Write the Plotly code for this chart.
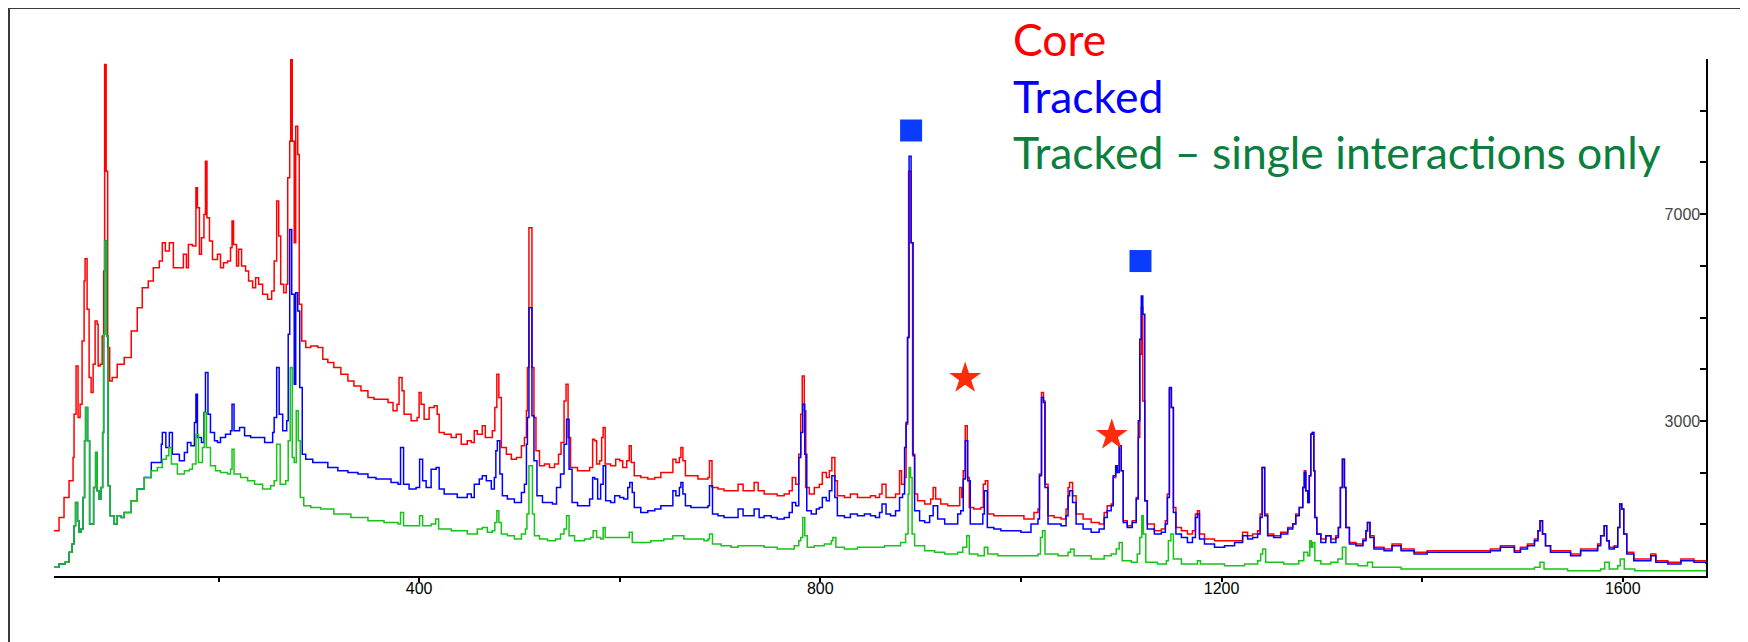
import plotly.graph_objects as go

# ---------------- data ----------------
core_kev = [36, 41, 46, 51, 55, 56, 58, 60, 62, 64, 66, 67, 69, 71, 73, 75, 77, 79, 80, 82, 84, 85.5, 86.5, 88, 89.5, 91.5, 94, 99, 106, 113, 119, 124, 130, 135, 141, 144, 147, 151, 155, 160, 165, 168, 170, 174, 177.5, 179, 181, 183, 185.5, 187, 188.5, 191, 194, 199, 202, 205, 209, 212, 213.5, 215, 218, 220, 223, 227, 230, 234, 237, 240, 244, 249, 253, 255.5, 258, 260, 262, 265, 267.5, 269, 271, 272, 273.5, 275.5, 277, 279, 280.5, 283, 287, 292, 299, 304, 309, 315, 322, 329, 335, 342, 349, 355, 362, 369, 374, 378, 380, 383, 385, 392, 398, 400, 402, 405, 410, 415, 418, 420, 425, 432, 437, 442, 448,
            452, 455, 458, 463, 466, 470, 473, 475.5, 477.5, 479.5, 482, 487, 492, 497, 502, 505, 507, 508, 509.5, 512.5, 514.5, 516.5, 520, 525, 530, 535, 539, 541.5, 544.5, 546.5, 548.5, 551, 558, 565, 570, 573, 575, 577, 580, 582, 583.5, 585.5, 591, 596, 600, 603, 607, 609.5, 611.5, 614.5, 621, 628, 635, 641, 648, 653, 656, 659.5, 661, 663, 665.5, 671, 678, 684, 688, 689.5, 692, 698, 704, 711, 718, 723, 728, 734, 738, 744, 751, 757, 764, 769, 772, 775.5, 778.5, 780.5, 782, 784, 785.5, 789, 794, 799, 802, 806, 809, 811.5, 814.5, 817, 824, 830, 837, 844, 850, 855, 859, 861.5, 865.5,
            870, 875, 879, 881, 884, 885.5, 887, 888, 890.5, 892, 894, 897, 904, 910, 912.5, 915, 920, 927, 934, 939, 941, 942.5, 944.5, 946.5, 948.5, 953, 960, 962.5, 964.5, 967, 973, 983, 993, 1003, 1013, 1017, 1018.5, 1020.5, 1022.5, 1024, 1027, 1033, 1040, 1045, 1047, 1048.5, 1051.5, 1055, 1062, 1070, 1078, 1083, 1086, 1090, 1092, 1094.5, 1096, 1098, 1100, 1102, 1106, 1111, 1115, 1117, 1118.5, 1120, 1121.5, 1123.5, 1126, 1133, 1140, 1144, 1146, 1148, 1150, 1152, 1154.5, 1160, 1166, 1171, 1174, 1176, 1178, 1183, 1193, 1203, 1213, 1221, 1226, 1231, 1236, 1238.5, 1240.5, 1243, 1246, 1252, 1259, 1266, 1271, 1274, 1277.5,
            1281, 1282.5, 1284, 1286, 1287.5, 1289, 1290.5, 1292, 1293, 1295, 1299, 1304, 1309, 1314, 1316.5, 1318.5, 1320.5, 1322.5, 1324, 1327.5, 1334, 1341, 1344, 1345.5, 1348, 1352, 1362, 1370, 1379, 1392, 1405, 1419, 1432, 1445, 1458, 1468, 1478, 1487, 1492, 1498, 1505, 1512, 1515.5, 1517.5, 1520, 1523, 1528, 1538, 1548, 1558, 1568, 1575, 1578, 1581.5, 1584, 1586.5, 1591.5, 1595, 1597, 1599, 1601, 1604, 1611, 1621, 1628, 1633, 1645, 1658, 1671, 1683]
core_counts = [876, 1133, 1520, 1842, 2293, 3130, 4064, 3065, 3323, 4547, 5706, 6137, 5158, 3838, 3548, 4096, 4933, 4869, 4064, 4096, 4643, 5899, 9892, 7831, 4418, 3774, 3838, 4096, 4225, 4740, 5191, 5577, 5706, 5963, 6092, 6446, 6285, 6446, 5963, 5963, 6221, 5963, 6414, 6382, 7509, 7123, 6221, 6543, 6994, 8024, 6930, 6478, 6124, 6221, 5963, 6060, 6092, 6350, 6865, 6414, 5996, 6318, 5996, 5899, 5706, 5577, 5770, 5641, 5448, 5352, 5512, 6092, 7252, 6575, 5641, 5480, 5641, 7702, 8411, 9988, 8411, 6446, 8700, 8153, 5255, 4547, 4418, 4450, 4418, 4193, 4128, 4031, 3903, 3774, 3677, 3581, 3452, 3420, 3420, 3355, 3194, 3323, 3838, 3581, 3130, 3001, 3065, 3548, 3323, 3033, 3259, 3291, 3130, 2776, 2743, 2679, 2743, 2550, 2615,
               2582, 2808, 2743, 2904, 2679, 2679, 2808, 3259, 3903, 3452, 2486, 2357, 2260, 2293, 2518, 2679, 3194, 4031, 6736, 4031, 3065, 2421, 2132, 2164, 2099, 2164, 2357, 2582, 3387, 3709, 2679, 2099, 2035, 2035, 2099, 2647, 2615, 2164, 2228, 2679, 2872, 2164, 2132, 2260, 2228, 2099, 2228, 2518, 2196, 1938, 1906, 1874, 1906, 2003, 2003, 2260, 2196, 2293, 2486, 2228, 1938, 1938, 1874, 1874, 1906, 2228, 1713, 1681, 1649, 1649, 1777, 1649, 1649, 1810, 1649, 1584, 1584, 1552, 1584, 1649, 1906, 1777, 2357, 3130, 3870, 3194, 1713, 1584, 1713, 1777, 2003, 1906, 2035, 2293, 1842, 1552, 1520, 1584, 1520, 1520, 1552, 1520, 1584, 1777, 1520,
               1520, 1584, 2035, 1777, 1906, 2937, 4611, 7831, 6446, 2357, 1584, 1455, 1391, 1488, 1713, 1488, 1391, 1359, 1359, 1713, 1520, 2035, 2904, 1906, 1327, 1294, 1327, 1777, 1842, 1198, 1166, 1166, 1166, 1101, 1230, 1294, 1971, 3548, 3387, 1777, 1166, 1133, 1101, 1294, 1713, 1810, 1552, 1198, 1101, 1037, 1005, 1230, 1359, 1391, 1906, 2132, 2035, 2518, 2035, 1069, 972, 1069, 1520, 2679, 4289, 5200, 3387, 1455, 1005, 876, 908, 1069, 1584, 3613, 3259, 1327, 940, 876, 811, 876, 1198, 1262, 811, 715, 683, 683, 683, 844, 779, 811, 876, 1198, 2099, 1198, 811, 779, 844, 940, 1005, 1198, 1327,
               1713, 2035, 1649, 1423, 1938, 2743, 2776, 2035, 1133, 811, 715, 779, 715, 779, 940, 1713, 2260, 1713, 940, 650, 618, 715, 876, 1037, 779, 554, 522, 618, 522, 457, 489, 489, 489, 489, 489, 522, 586, 586, 489, 554, 618, 715, 876, 1069, 811, 586, 489, 489, 425, 522, 522, 618, 779, 972, 683, 554, 586, 940, 1391, 1294, 811, 457, 328, 328, 425, 296, 264, 328, 296, 296]

tracked_kev = [36, 41, 47, 51, 54, 56, 57.5, 59.5, 61, 63, 65, 66.5, 67.5, 69.5, 71.5, 75.5, 77.5, 79, 81, 83, 84.5, 85.5, 86.5, 88.5, 90, 92, 96, 99, 103, 106, 113, 119, 126,
               133, 143, 144, 147.5, 151, 154, 161, 166, 169, 172.5, 176, 177.5, 179, 183, 185.5, 187, 189.5, 192, 196, 199, 202, 207, 212, 213.5, 215.5, 221, 226, 232, 239, 246, 251, 254, 255.5, 258, 260.5, 264, 268, 269.5, 271, 273, 275.5, 277, 279, 281, 283.5, 287, 294, 302, 309, 319, 329, 339, 349, 357, 365, 372, 379, 381.5, 384.5, 390, 397, 400.5, 403.5, 407, 412, 417, 420, 425, 432, 438, 448,
               452, 455, 460, 463, 467, 472, 475, 476.5, 478, 480.5, 483, 488, 495, 502, 505, 507, 508, 509.5, 512.5, 514.5, 517.5, 523, 528, 533, 537, 541, 544.5, 547, 549.5, 552.5, 558, 565, 570, 573, 575, 578, 581, 583.5, 586, 591, 595, 600, 604, 608, 610, 612.5, 614.5, 621, 628, 635, 641, 648, 653, 656, 659.5, 661, 663, 665.5, 671, 678, 684, 688, 689.5, 692.5, 698, 704, 711, 718, 723, 728, 734, 739, 744, 751, 757, 764, 769, 772, 775.5, 778.5, 780.5, 782.5, 784.5, 786.5, 791, 796, 799, 802, 806, 809, 811.5, 814.5, 817, 824, 830, 837, 844, 850, 855, 859, 861.5, 865.5,
               870, 875, 879, 882, 884, 885.5, 887, 888.5, 890.5, 892.5, 894, 899, 904, 909, 912.5, 917, 924, 930, 937, 940, 942.5, 944.5, 947, 949.5, 957, 962, 963.5, 966.5, 973, 980, 990, 1000, 1010, 1017, 1018.5, 1020.5, 1022.5, 1024, 1027, 1033, 1040, 1045, 1047, 1048.5, 1051.5, 1055, 1062, 1070, 1078, 1083, 1086, 1090, 1092, 1094.5, 1096, 1098, 1100, 1102, 1106, 1111, 1115, 1117, 1118.5, 1120, 1121.5, 1123.5, 1126, 1133, 1140, 1144, 1146, 1148, 1150, 1152, 1154.5, 1160, 1166, 1171, 1174, 1176, 1178, 1183, 1193, 1203, 1213, 1221, 1226, 1231, 1236, 1238.5, 1240.5, 1243, 1246, 1252, 1259, 1266, 1271, 1274, 1277.5,
               1281, 1282.5, 1284, 1286, 1287.5, 1289, 1290.5, 1292, 1293, 1295, 1299, 1304, 1309, 1314, 1316.5, 1318.5, 1320.5, 1322.5, 1324, 1327.5, 1334, 1341, 1344, 1345.5, 1348, 1352, 1362, 1370, 1379, 1392, 1405, 1419, 1432, 1445, 1458, 1468, 1478, 1487, 1492, 1498, 1505, 1512, 1515.5, 1517.5, 1520, 1523, 1528, 1538, 1548, 1558, 1568, 1575, 1578, 1581.5, 1584, 1586.5, 1591.5, 1595, 1597, 1599, 1601, 1604, 1611, 1621, 1628, 1633, 1645, 1658, 1671, 1683]
tracked_counts = [167, 232, 264, 457, 618, 972, 1423, 1069, 844, 908, 1520, 2615, 3259, 2615, 1005, 1713, 2389, 1649, 1488, 1713, 2776, 4675, 6478, 4643, 1745, 1166, 1005, 1166, 1133, 1230, 1455, 1681, 1906,
                  2196, 2550, 2776, 2486, 2776, 2357, 2228, 2389, 2582, 2518, 2969, 3516, 2679, 2582, 3162, 3935, 3130, 2776, 2615, 2582, 2679, 2743, 2808, 3323, 2808, 2872, 2711, 2679, 2679, 2582, 2582, 2776, 3065, 4031, 3130, 2808, 3001, 4675, 6704, 5448, 3709, 5480, 5126, 3645, 2357, 2260, 2196, 2196, 2099, 2035, 2003, 1971, 1906, 1874, 1874, 1810, 1777, 2486, 1777, 1681, 1713, 2260, 1842, 1713, 2067, 2099, 1681, 1584, 1584, 1520, 1584,
                  1520, 1777, 1874, 1938, 1842, 1681, 1906, 2421, 2615, 1971, 1552, 1488, 1423, 1616, 1777, 2550, 3065, 5191, 3098, 2228, 1552, 1423, 1423, 1391, 1713, 1971, 2550, 3033, 2067, 1423, 1359, 1359, 1488, 1906, 1874, 1488, 1777, 2132, 1455, 1423, 1552, 1520, 1488, 1713, 1810, 1616, 1327, 1230, 1262, 1294, 1359, 1359, 1649, 1552, 1713, 1810, 1584, 1359, 1327, 1327, 1327, 1359, 1745, 1198, 1166, 1133, 1133, 1294, 1166, 1166, 1294, 1133, 1166, 1133, 1101, 1133, 1230, 1423, 1359, 2293, 2776, 3323, 2357, 1262, 1198, 1294, 1327, 1520, 1455, 1649, 1938, 1520, 1166, 1133, 1198, 1166, 1198, 1166, 1133, 1230, 1391, 1198,
                  1166, 1262, 1520, 1584, 2486, 2969, 4611, 8121, 6446, 2325, 1262, 1069, 1037, 1166, 1359, 1101, 1005, 1005, 1198, 1262, 1874, 2615, 1842, 1005, 1005, 1198, 1649, 940, 908, 876, 876, 844, 1005, 1101, 1938, 3452, 3355, 1713, 1005, 1005, 972, 1166, 1552, 1649, 1423, 1005, 908, 844, 908, 1133, 1262, 1359, 1938, 2132, 2003, 2518, 2035, 1037, 940, 1037, 1488, 3001, 4579, 5416, 5062, 1455, 908, 811, 844, 1005, 1520, 3645, 3259, 1230, 811, 747, 650, 747, 1133, 1198, 715, 618, 554, 586, 650, 779, 715, 747, 811, 1133, 2099, 1166, 779, 747, 811, 908, 1005, 1166, 1327,
                  1713, 2003, 1649, 1423, 1938, 2743, 2776, 2035, 1133, 811, 650, 779, 650, 747, 940, 1713, 2260, 1713, 940, 618, 586, 683, 876, 1037, 747, 522, 489, 586, 489, 425, 457, 457, 457, 457, 457, 489, 554, 554, 457, 522, 586, 683, 876, 1069, 811, 586, 457, 457, 393, 489, 489, 586, 779, 972, 683, 522, 554, 940, 1391, 1294, 811, 425, 296, 296, 393, 264, 232, 296, 264, 232]

single_kev = [36, 41, 47, 51, 54, 56, 57.5, 59.5, 61, 63, 65, 66.5, 67.5, 69.5, 71.5, 75.5, 77.5, 79, 81, 83, 84.5, 85.5, 86.5, 88.5, 90, 92, 96, 99, 103, 106, 113, 119, 126, 133, 139, 144, 148, 150.5, 153, 159, 166, 171, 174, 177.5, 180, 184, 186, 188, 192, 197, 202, 209, 212, 213.5, 215.5, 222, 229, 236, 244, 252, 255.5, 258, 261.5, 267, 269.5, 271.5, 273.5, 275.5, 277.5, 279.5, 281.5, 285, 292, 302, 315, 332, 349, 365, 379, 381.5, 384.5, 395, 400.5, 403.5, 412, 416.5, 419.5, 432, 448,
              452, 458, 463, 468, 473, 475.5, 477.5, 479.5, 482, 488, 495, 502, 506, 507.5, 509.5, 513, 515, 520, 528, 536, 541, 544.5, 547, 549.5, 555, 565, 571, 573.5, 577, 581, 583.5, 585.5, 595, 604, 609.5, 612.5, 621, 631, 644, 653, 660, 664, 674, 684, 688, 689.5, 692.5, 701, 711, 718, 728, 738, 744, 757, 767, 774, 778.5, 780.5, 782.5, 784.5, 787, 794, 804, 811, 812.5, 815.5, 824, 837, 850, 864,
              870, 880, 885, 887.5, 888.5, 890, 891.5, 894, 904, 914, 924, 937, 942, 946, 948.5, 957, 963.5, 967, 977, 990, 1003, 1017, 1019.5, 1021.5, 1024, 1037, 1047, 1049.5, 1053, 1070, 1083, 1090, 1095, 1098, 1101, 1110, 1116, 1118.5, 1120.5, 1122, 1124.5, 1136, 1145, 1147, 1149.5, 1152, 1160, 1170, 1176, 1179, 1203, 1223, 1236, 1239, 1241, 1244, 1262, 1277, 1282, 1286, 1288,
              1289.5, 1291, 1293, 1299, 1309, 1316, 1320.5, 1324, 1336, 1345.5, 1350.5, 1379, 1412, 1445, 1479, 1512, 1517.5, 1521.5, 1545, 1578, 1582, 1586.5, 1595, 1597.5, 1601.5, 1612, 1645, 1683]
single_counts = [167, 232, 264, 457, 618, 972, 1423, 1069, 844, 908, 1520, 2615, 3259, 2615, 1005, 1713, 2389, 1649, 1488, 1713, 2776, 4675, 6478, 4643, 1745, 1166, 1005, 1166, 1133, 1230, 1455, 1681, 1906, 2035, 2099, 2260, 2325, 2486, 2164, 1971, 2035, 2067, 2164, 2743, 2196, 2486, 3162, 2486, 2132, 2035, 2003, 1971, 2067, 2454, 1971, 1906, 1842, 1777, 1681, 1745, 1842, 2550, 1777, 1842, 2615, 4031, 2293, 2196, 3194, 2615, 1520, 1359, 1327, 1294, 1198, 1133, 1069, 1037, 1005, 1230, 972, 972, 1166, 972, 1005, 1101, 908, 876, 811,
                 811, 908, 940, 844, 876, 1037, 1262, 1037, 811, 779, 715, 811, 908, 1198, 2132, 1198, 779, 715, 683, 715, 811, 908, 1166, 779, 683, 715, 747, 876, 747, 715, 940, 747, 747, 747, 844, 650, 650, 683, 715, 779, 779, 715, 715, 683, 715, 811, 618, 586, 554, 586, 586, 586, 554, 522, 522, 586, 683, 747, 1133, 779, 554, 586, 618, 683, 747, 554, 522, 554, 554, 586,
                 586, 650, 811, 1584, 2099, 1906, 811, 586, 489, 457, 425, 457, 554, 779, 425, 393, 554, 425, 393, 393, 393, 425, 747, 876, 425, 393, 457, 522, 393, 328, 393, 425, 522, 650, 296, 264, 425, 747, 1166, 811, 264, 232, 296, 683, 811, 328, 232, 232, 296, 232, 200, 232, 296, 425, 522, 264, 232, 296, 457, 393, 683,
                 554, 650, 296, 232, 264, 328, 554, 232, 200, 264, 167, 135, 135, 135, 135, 167, 264, 135, 103, 135, 264, 135, 200, 328, 135, 103, 103, 103]

# annotated lines (blue squares, red stars)
square_kev = [890.5, 1119.2]
square_counts = [8617, 6092]
star_kev = [944.4, 1090.6]
star_counts = [3825, 2724]

x_tick_vals = [200, 400, 600, 800, 1000, 1200, 1400, 1600]
x_tick_text = ["", "400", "", "800", "", "1200", "", "1600"]
y_tick_vals = [0, 1000, 2000, 3000, 4000, 5000, 6000, 7000, 8000, 9000, 10000]
y_tick_text = ["", "", "", "3000", "", "", "", "7000", "", "", ""]

legend_labels = ["Core", "Tracked", "Tracked \u2013 single interactions only"]
legend_colors = ["#FF0000", "#0000FF", "#0A7F3E"]

# ---------------- figure ----------------
# the page body has an 8px default margin, so the figure is 8px smaller than the window
OFF = 8
W, H = 1748 - OFF, 642 - OFF
L, R, T, B = 54 - OFF, 42, 59 - OFF, 66
pw, ph = W - L - R, H - T - B

def px_to_paper(xp, yp):
    # xp, yp: position in the window (screenshot) pixels
    return (xp - OFF - L) / pw, (H - B - (yp - OFF)) / ph

fig = go.Figure()
fig.add_trace(go.Scatter(x=core_kev, y=core_counts, mode="lines", line=dict(color="#FF0000", width=1.5, shape="hv"), name="Core"))
fig.add_trace(go.Scatter(x=tracked_kev, y=tracked_counts, mode="lines", line=dict(color="#0000FF", width=1.5, shape="hv"), name="Tracked"))
fig.add_trace(go.Scatter(x=single_kev, y=single_counts, mode="lines", line=dict(color="#17C417", width=1.5, shape="hv"), name="Single"))
fig.add_trace(go.Scatter(x=square_kev, y=square_counts, mode="markers", marker=dict(symbol="square", size=22, color="#0A3CFF", line=dict(width=0)), cliponaxis=False))
fig.add_trace(go.Scatter(x=star_kev, y=star_counts, mode="markers", marker=dict(symbol="star", size=24, color="#FF2A0A", line=dict(width=0)), cliponaxis=False))

FS = 44.5
baselines = [56, 112.5, 168.8]
for lab, col, bl in zip(legend_labels, legend_colors, baselines):
    xpp, ypp = px_to_paper(1011, bl - 0.387 * FS)
    fig.add_annotation(x=xpp, y=ypp, xref="paper", yref="paper", text=lab, showarrow=False,
                       xanchor="left", yanchor="middle", font=dict(family="Lato", size=FS, color=col))

x0p, y0p = px_to_paper(9, 8)
fig.add_shape(type="rect", xref="paper", yref="paper", x0=x0p, y0=-0.3, x1=1.2, y1=y0p,
              line=dict(color="#3a3a3a", width=2), layer="above")

fig.update_layout(
    width=W, height=H, margin=dict(l=L, r=R, t=T, b=B),
    paper_bgcolor="white", plot_bgcolor="white", showlegend=False,
    font=dict(family="Liberation Sans, Arial", color="black"),
)
fig.update_xaxes(range=[36, 1683], showgrid=False, zeroline=False, showline=True, linecolor="black", linewidth=2,
                 tickmode="array", tickvals=x_tick_vals, ticktext=x_tick_text, ticks="outside", ticklen=4,
                 tickwidth=1.5, tickcolor="black", ticklabelstandoff=-7,
                 tickfont=dict(size=16, family="Liberation Sans, Arial"))
fig.update_yaxes(range=[0, 10000], side="right", showgrid=False, zeroline=False, showline=True, linecolor="black", linewidth=2,
                 tickmode="array", tickvals=y_tick_vals, ticktext=y_tick_text, ticks="inside", ticklen=6,
                 tickwidth=2, tickcolor="black", ticklabelposition="inside", tickfont=dict(size=16, family="Liberation Sans, Arial"))

fig.write_html("out.html")
